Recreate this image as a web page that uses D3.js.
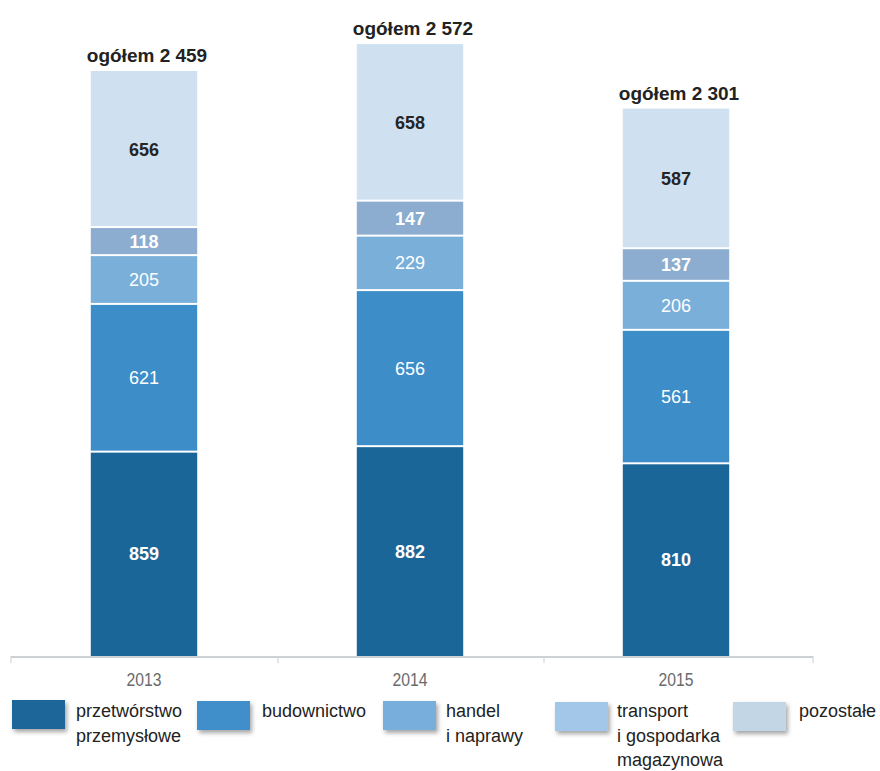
<!DOCTYPE html>
<html>
<head>
<meta charset="utf-8">
<script src="https://cdn.jsdelivr.net/npm/d3@7"></script>
<style>
  html, body { margin: 0; padding: 0; background: #fff; }
  svg { display: block; }
</style>
</head>
<body>
<svg id="chart" width="880" height="771"></svg>
<script>
// ---- data ----
const years = ["2013", "2014", "2015"];
const seriesNames = ["przetwórstwo przemysłowe", "budownictwo", "handel i naprawy", "transport i gospodarka magazynowa", "pozostałe"];
const przetworstwo = [859, 882, 810];
const budownictwo = [621, 656, 561];
const handel = [205, 229, 206];
const transport = [118, 147, 137];
const pozostale = [656, 658, 587];
const totals = [2459, 2572, 2301];
const totalPrefix = "ogółem";
const legendLines = [
  ["przetwórstwo", "przemysłowe"],
  ["budownictwo"],
  ["handel", "i naprawy"],
  ["transport", "i gospodarka", "magazynowa"],
  ["pozostałe"]
];

// ---- styles ----
const barColors = ["#1b6698", "#3d8dc8", "#79afd9", "#8cadcf", "#cfe1f1"];
const legendColors = ["#1d6699", "#3f8fcb", "#77aedb", "#a3c7e8", "#c3d6e6"];
const labelColors = ["#ffffff", "#ffffff", "#ffffff", "#ffffff", "#252525"];
const labelWeights = ["bold", "normal", "normal", "bold", "bold"];

const seriesValues = [przetworstwo, budownictwo, handel, transport, pozostale];

const svg = d3.select("#chart");
const baseY = 656;

const x = d3.scaleBand().domain(years).range([11, 809]).paddingInner(0.6).paddingOuter(0.3);
const y = d3.scaleLinear().domain([0, 2700]).range([baseY, baseY - 2700 * 0.2379]);

// build stacked data
const table = years.map((yr, i) => {
  const o = { year: yr };
  seriesNames.forEach((s, k) => { o[s] = seriesValues[k][i]; });
  return o;
});
const stacked = d3.stack().keys(seriesNames)(table);

const gBars = svg.append("g");
stacked.forEach((layer, k) => {
  const g = gBars.append("g");
  g.selectAll("rect").data(layer).enter().append("rect")
    .attr("x", d => x(d.data.year))
    .attr("width", x.bandwidth())
    .attr("y", d => y(d[1]) + (k === seriesNames.length - 1 ? 0 : 1))
    .attr("height", d => Math.max(0, y(d[0]) - y(d[1]) - (k === 0 ? 0 : 1) - (k === seriesNames.length - 1 ? 0 : 1)))
    .attr("fill", barColors[k]);
  g.selectAll("text").data(layer).enter().append("text")
    .attr("x", d => x(d.data.year) + x.bandwidth() / 2)
    .attr("y", d => (y(d[0]) + y(d[1])) / 2)
    .attr("dy", "0.36em")
    .attr("text-anchor", "middle")
    .attr("font-family", "'Liberation Sans', Arial, sans-serif")
    .attr("font-size", 18)
    .attr("font-weight", labelWeights[k])
    .attr("fill", labelColors[k])
    .text(d => d[1] - d[0]);
});

// totals
svg.append("g").selectAll("text").data(years).enter().append("text")
  .attr("x", d => x(d) + x.bandwidth() / 2 + 3)
  .attr("y", (d, i) => y(totals[i]) - 9)
  .attr("text-anchor", "middle")
  .attr("font-family", "'Liberation Sans', Arial, sans-serif")
  .attr("font-size", 19)
  .attr("font-weight", "bold")
  .attr("fill", "#222")
  .text((d, i) => totalPrefix + " " + d3.format(",")(totals[i]).replace(/,/g, " "));

// axis
const axisG = svg.append("g");
const axisEnd = 813;
axisG.append("line")
  .attr("x1", x.range()[0]).attr("x2", axisEnd)
  .attr("y1", baseY + 1).attr("y2", baseY + 1)
  .attr("stroke", "#cdd1d4").attr("stroke-width", 2);
const bounds = [x.range()[0]].concat(years.slice(1).map(d => x(d) - x.step() * x.paddingInner() / 2 + 1)).concat([axisEnd]);
axisG.selectAll("line.tick").data(bounds).enter().append("line")
  .attr("class", "tick")
  .attr("x1", d => d).attr("x2", d => d)
  .attr("y1", baseY).attr("y2", baseY + 7)
  .attr("stroke", "#d3d6d8").attr("stroke-width", 1.2);
axisG.selectAll("text").data(years).enter().append("text")
  .attr("x", d => x(d) + x.bandwidth() / 2)
  .attr("y", baseY + 30)
  .attr("text-anchor", "middle")
  .attr("font-family", "'Liberation Sans Narrow', 'Liberation Sans', Arial, sans-serif")
  .attr("font-size", 18)
  .attr("textLength", 35)
  .attr("lengthAdjust", "spacingAndGlyphs")
  .attr("fill", "#6a6a6a")
  .text(d => d);

// legend
const defs = svg.append("defs");
const f = defs.append("filter").attr("id", "sh").attr("x", "-20%").attr("y", "-20%").attr("width", "150%").attr("height", "160%");
f.append("feDropShadow").attr("dx", 2).attr("dy", 3).attr("stdDeviation", 2).attr("flood-color", "#000").attr("flood-opacity", 0.35);

const legendX = [12, 197, 383, 555, 733];
const legendTextX = [76, 262, 446, 617, 799];
const legendTop = [700, 701, 701, 702, 702];
const lg = svg.append("g");
seriesNames.forEach((s, k) => {
  lg.append("rect")
    .attr("x", legendX[k]).attr("y", legendTop[k])
    .attr("width", 53).attr("height", 29)
    .attr("fill", legendColors[k])
    .attr("filter", "url(#sh)");
  const t = lg.append("text")
    .attr("font-family", "'Liberation Sans', Arial, sans-serif")
    .attr("font-size", 18)
    .attr("fill", "#222");
  legendLines[k].forEach((line, j) => {
    t.append("tspan").attr("x", legendTextX[k]).attr("y", 717 + j * 24.5).text(line);
  });
});
</script>
</body>
</html>
